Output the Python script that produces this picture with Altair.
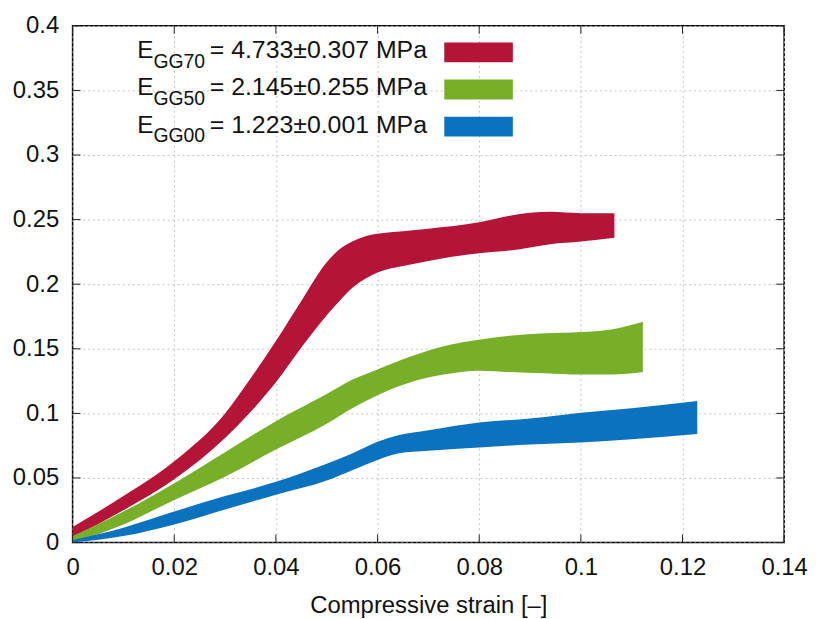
import altair as alt
import pandas as pd

# ---------------- data ----------------
series = ["GG70", "GG50", "GG00"]
moduli = ["4.733±0.307", "2.145±0.255", "1.223±0.001"]
colors = ["#B41437", "#78AF28", "#0A72BE"]

gg70_x = [0.000, 0.010, 0.020, 0.030, 0.035, 0.040, 0.045, 0.050, 0.0525, 0.055, 0.0575, 0.060, 0.065, 0.070, 0.080, 0.086, 0.094, 0.100, 0.1066]
gg70_lo = [0.004, 0.025, 0.049, 0.081, 0.101, 0.124, 0.151, 0.176, 0.187, 0.197, 0.204, 0.209, 0.214, 0.218, 0.224, 0.226, 0.231, 0.233, 0.236]
gg70_hi = [0.012, 0.036, 0.063, 0.100, 0.127, 0.156, 0.187, 0.217, 0.227, 0.233, 0.237, 0.239, 0.241, 0.243, 0.248, 0.253, 0.256, 0.255, 0.255]

gg50_x = [0.000, 0.010, 0.020, 0.030, 0.040, 0.050, 0.055, 0.060, 0.0665, 0.073, 0.080, 0.086, 0.093, 0.100, 0.106, 0.1122]
gg50_lo = [0.000, 0.014, 0.033, 0.051, 0.072, 0.092, 0.104, 0.114, 0.124, 0.130, 0.133, 0.132, 0.131, 0.130, 0.130, 0.132]
gg50_hi = [0.005, 0.024, 0.046, 0.070, 0.094, 0.115, 0.126, 0.134, 0.144, 0.152, 0.157, 0.160, 0.162, 0.163, 0.165, 0.171]

gg00_x = [0.000, 0.010, 0.020, 0.030, 0.040, 0.050, 0.055, 0.060, 0.064, 0.070, 0.080, 0.090, 0.100, 0.110, 0.1229]
gg00_lo = [0.000, 0.005, 0.014, 0.0256, 0.037, 0.048, 0.056, 0.064, 0.069, 0.071, 0.0736, 0.076, 0.0775, 0.080, 0.084]
gg00_hi = [0.002, 0.0115, 0.024, 0.036, 0.047, 0.061, 0.069, 0.078, 0.083, 0.087, 0.093, 0.096, 0.1005, 0.104, 0.1095]

x_ticks = [0, 0.02, 0.04, 0.06, 0.08, 0.1, 0.12, 0.14]
y_ticks = [0, 0.05, 0.1, 0.15, 0.2, 0.25, 0.3, 0.35, 0.4]
x_title = "Compressive strain [–]"

# ---------------- build ----------------
W, H = 716, 520
FONT = "Liberation Sans"
TXT = "#111111"

band_data = {
    "GG70": (gg70_x, gg70_lo, gg70_hi),
    "GG50": (gg50_x, gg50_lo, gg50_hi),
    "GG00": (gg00_x, gg00_lo, gg00_hi),
}

x_scale = alt.Scale(domain=[0, 0.14], nice=False, zero=False)
y_scale = alt.Scale(domain=[0, 0.4], nice=False, zero=False)
color_scale = alt.Scale(domain=series, range=colors)

x_axis = alt.Axis(values=x_ticks, format="~g", title=x_title, grid=True, ticks=False,
                  domain=False, labelPadding=13, titlePadding=14, labelFlush=False,
                  labelOverlap=False)
y_axis = alt.Axis(values=y_ticks, format="~g", title=None, grid=True, ticks=False,
                  domain=False, labelPadding=14, labelOverlap=False)

layers = []
for s in series:
    xs, lo, hi = band_data[s]
    d = pd.DataFrame({"x": xs, "lo": lo, "hi": hi, "series": s})
    layers.append(
        alt.Chart(d).mark_area(opacity=1, orient="vertical", interpolate="monotone").encode(
            x=alt.X("x:Q", scale=x_scale, axis=x_axis),
            y=alt.Y("lo:Q", scale=y_scale, axis=y_axis),
            y2="hi:Q",
            color=alt.Color("series:N", scale=color_scale, legend=None),
        )
    )

# inward mirrored ticks (gnuplot style)
TL = 8
xt = pd.DataFrame({"t": x_ticks})
yt = pd.DataFrame({"t": y_ticks})
tick_style = dict(color="#222222", strokeWidth=1)
xb = alt.Chart(xt).mark_rule(**tick_style).encode(
    x=alt.X("t:Q", scale=x_scale, axis=x_axis), y=alt.value(H), y2=alt.value(H - TL))
xtp = alt.Chart(xt).mark_rule(**tick_style).encode(
    x=alt.X("t:Q", scale=x_scale, axis=x_axis), y=alt.value(0), y2=alt.value(TL))
yl = alt.Chart(yt).mark_rule(**tick_style).encode(
    y=alt.Y("t:Q", scale=y_scale, axis=y_axis), x=alt.value(0), x2=alt.value(TL))
yr = alt.Chart(yt).mark_rule(**tick_style).encode(
    y=alt.Y("t:Q", scale=y_scale, axis=y_axis), x=alt.value(W - TL), x2=alt.value(W))

# custom legend with subscripts
legend_layers = []
for i, (s, m, col) in enumerate(zip(series, moduli, colors)):
    c = 26.7 + 37.4 * i
    one = pd.DataFrame({"series": [s]})
    legend_layers.append(
        alt.Chart(one).mark_rect(color=col).encode(
            x=alt.value(374), x2=alt.value(443), y=alt.value(c - 10), y2=alt.value(c + 10)))
    legend_layers.append(
        alt.Chart(one).mark_text(text="E", align="left", baseline="alphabetic", font=FONT,
                                 fontSize=24.5, color=TXT).encode(
            x=alt.value(65), y=alt.value(c + 6)))
    legend_layers.append(
        alt.Chart(one).mark_text(text=s, align="left", baseline="alphabetic", font=FONT,
                                 fontSize=19.5, color=TXT).encode(
            x=alt.value(81.3), y=alt.value(c + 15.5)))
    legend_layers.append(
        alt.Chart(one).mark_text(text=f"= {m} MPa", align="left", baseline="alphabetic",
                                 font=FONT, fontSize=25, color=TXT).encode(
            x=alt.value(138), y=alt.value(c + 6)))

chart = alt.layer(*layers, xb, xtp, yl, yr, *legend_layers).properties(
    width=W, height=H,
    padding={"left": 4, "top": 4, "right": 0, "bottom": 0},
    background="white",
).configure_view(
    stroke="black", strokeWidth=1.5
).configure_axis(
    labelFont=FONT, labelFontSize=24, labelColor=TXT,
    titleFont=FONT, titleFontSize=24, titleFontWeight="normal", titleColor=TXT,
    gridColor="#c4c4c4", gridDash=[2, 3], gridWidth=1,
)

chart.save("out.html", embed_options={"renderer": "svg", "actions": False})
